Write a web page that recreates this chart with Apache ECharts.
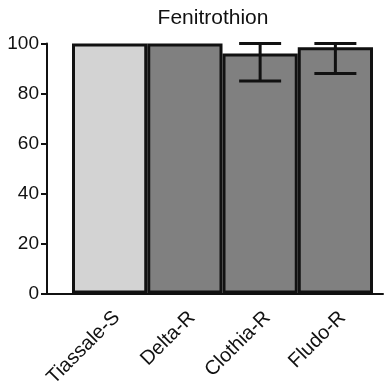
<!DOCTYPE html>
<html>
<head>
<meta charset="utf-8">
<script src="https://cdn.jsdelivr.net/npm/echarts@6/dist/echarts.min.js"></script>
<style>
  html, body { margin: 0; padding: 0; background: #fff; }
  #chart { width: 385px; height: 390px; }
</style>
</head>
<body>
<div id="chart"></div>
<script>
// Fenitrothion mortality (%) per mosquito strain
const categories = ['Tiassale-S', 'Delta-R', 'Clothia-R', 'Fludo-R'];
const meanValues = [100, 100, 96, 98.5];
const errLow = [null, null, 85, 88];
const errHigh = [null, null, 100, 100];
const barColors = ['#d3d3d3', '#808080', '#808080', '#808080'];
const yTicks = { min: 0, max: 100, interval: 20 };

const FONT = 'Liberation Sans, Arial, sans-serif';

const barData = meanValues.map((v, i) => ({
  value: v,
  itemStyle: { color: barColors[i] }
}));

const errData = [];
categories.forEach((c, i) => {
  if (errLow[i] != null && errHigh[i] != null) errData.push([i, errLow[i], errHigh[i]]);
});

const chart = echarts.init(document.getElementById('chart'), null, { renderer: 'canvas' });

chart.setOption({
  animation: false,
  backgroundColor: '#ffffff',
  title: {
    text: 'Fenitrothion',
    left: 208,
    textAlign: 'center',
    top: 3,
    textStyle: { fontFamily: FONT, fontSize: 21, fontWeight: 'normal', color: '#111' }
  },
  grid: [
    { left: 47, right: 2, top: 43.5, bottom: 96 },
    { left: 72, right: 12, top: 43.5, bottom: 96 }
  ],
  xAxis: [
    {
      gridIndex: 0, type: 'value', min: 0, max: 1,
      axisLine: { show: true, lineStyle: { color: '#111', width: 2 } },
      axisTick: { show: false }, axisLabel: { show: false }, splitLine: { show: false }
    },
    {
      gridIndex: 1, type: 'category', data: categories,
      axisLine: { show: false }, axisTick: { show: false },
      axisLabel: {
        rotate: 45, margin: 14, interval: 0, verticalAlign: 'top',
        fontFamily: FONT, fontSize: 20, color: '#111'
      }
    }
  ],
  yAxis: [
    {
      gridIndex: 0, type: 'value', min: yTicks.min, max: yTicks.max, interval: yTicks.interval,
      axisLine: { show: true, lineStyle: { color: '#111', width: 2 } },
      axisTick: { show: true, length: 6, lineStyle: { color: '#111', width: 2 } },
      axisLabel: { margin: 8, fontFamily: FONT, fontSize: 19, color: '#111' },
      splitLine: { show: false }
    },
    {
      gridIndex: 1, type: 'value', min: yTicks.min, max: yTicks.max, interval: yTicks.interval,
      show: false
    }
  ],
  series: [
    {
      type: 'bar', xAxisIndex: 1, yAxisIndex: 1,
      data: barData,
      barWidth: '100%', barCategoryGap: 0,
      itemStyle: { borderColor: '#111', borderWidth: 3 },
      z: 2
    },
    {
      type: 'custom', xAxisIndex: 1, yAxisIndex: 1,
      data: errData,
      z: 3,
      renderItem: function (params, api) {
        const x = api.value(0);
        const lo = api.coord([x, api.value(1)]);
        const hi = api.coord([x, api.value(2)]);
        const half = 21;
        const style = { stroke: '#111', lineWidth: 3 };
        return {
          type: 'group',
          children: [
            { type: 'line', shape: { x1: lo[0], y1: lo[1], x2: hi[0], y2: hi[1] }, style: style },
            { type: 'line', shape: { x1: lo[0] - half, y1: lo[1], x2: lo[0] + half, y2: lo[1] }, style: style },
            { type: 'line', shape: { x1: hi[0] - half, y1: hi[1], x2: hi[0] + half, y2: hi[1] }, style: style }
          ]
        };
      }
    }
  ]
});
</script>
</body>
</html>
